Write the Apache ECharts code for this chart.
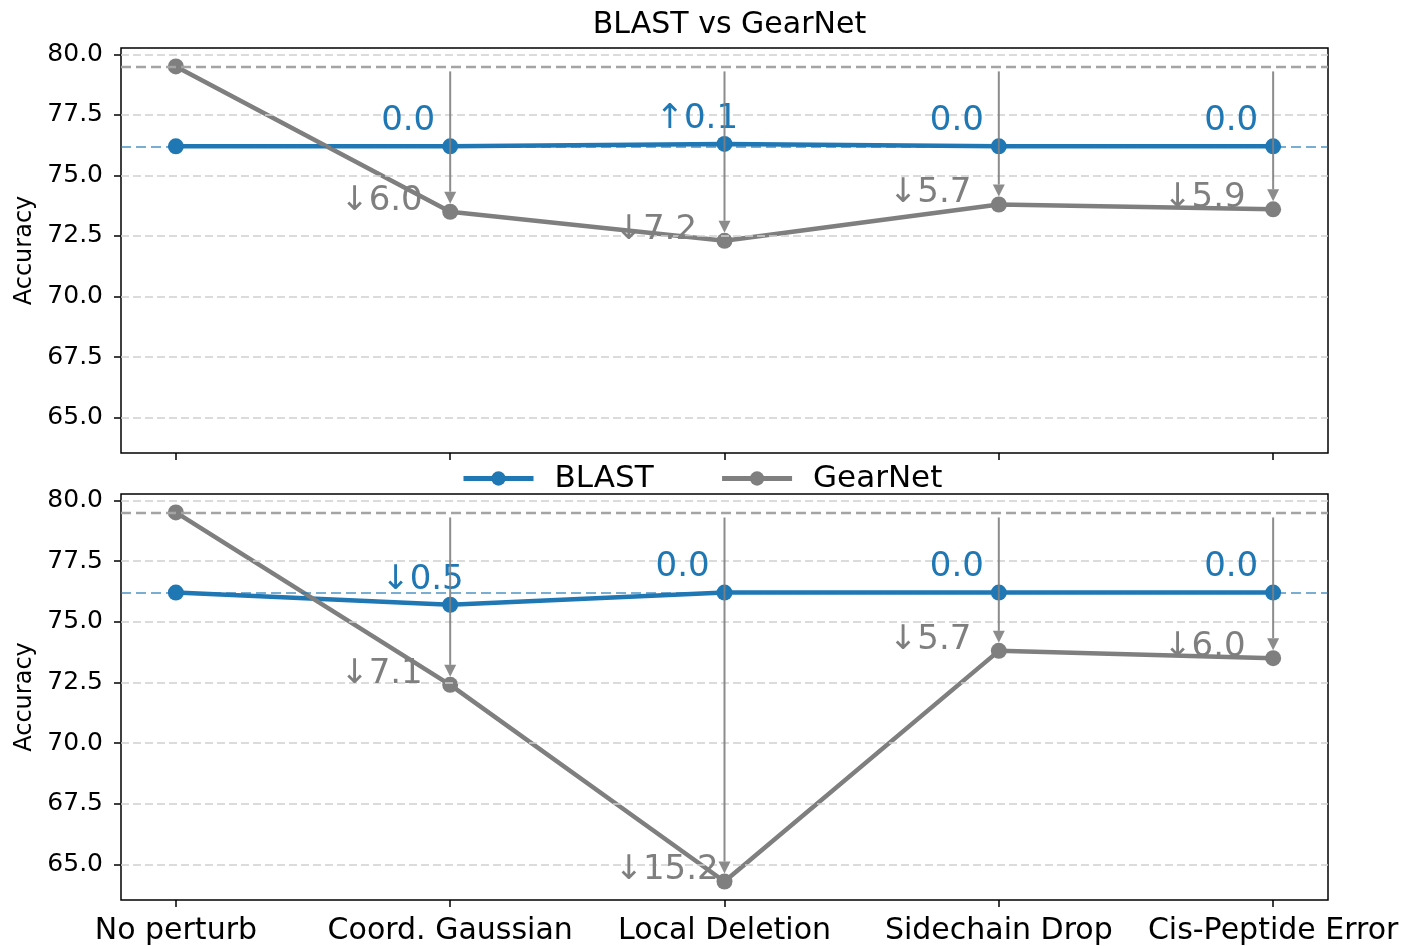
<!DOCTYPE html>
<html>
<head>
<meta charset="utf-8">
<title>BLAST vs GearNet</title>
<script src="https://cdn.jsdelivr.net/npm/echarts@6/dist/echarts.min.js"></script>
<style>
  html, body { margin: 0; padding: 0; background: #ffffff; }
  #chart { width: 1404px; height: 946px; }
</style>
</head>
<body>
<div id="chart"></div>
<script>
// Perturbation categories shared by both panels
const categories = ['No perturb', 'Coord. Gaussian', 'Local Deletion', 'Sidechain Drop', 'Cis-Peptide Error'];

// Upper panel accuracies
const blastTop   = [76.2, 76.2, 76.3, 76.2, 76.2];
const gearnetTop = [79.5, 73.5, 72.3, 73.8, 73.6];

// Lower panel accuracies
const blastBottom   = [76.2, 75.7, 76.2, 76.2, 76.2];
const gearnetBottom = [79.5, 72.4, 64.3, 73.8, 73.5];

// Y-axis tick labels
const yTicks = [65, 67.5, 70, 72.5, 75, 77.5, 80];
const xTicks = [0, 1, 2, 3, 4];

const BLUE = '#1f77b4';
const GRAY = '#7f7f7f';
const FONT = 'DejaVu Sans';

// shared y range: data extent plus 5% padding on each side
const allVals = blastTop.concat(gearnetTop, blastBottom, gearnetBottom);
const lo = Math.min.apply(null, allVals);
const hi = Math.max.apply(null, allVals);
const pad = (hi - lo) * 0.05;
const yMin = lo - pad;
const yMax = hi + pad;

const panels = [
  { blast: blastTop, gearnet: gearnetTop, grid: { left: 121, top: 48, width: 1207, height: 405 }, showX: false },
  { blast: blastBottom, gearnet: gearnetBottom, grid: { left: 121, top: 494, width: 1207, height: 406 }, showX: true }
];

// arrow from the baseline to each point, plus the change label
function deltaRenderer(color, dx, dy) {
  return function (params, api) {
    const x = api.value(0), v = api.value(1), b = api.value(2);
    const p0 = api.coord([x, b]);
    const p1 = api.coord([x, v]);
    const d = Math.round((v - b) * 10) / 10;
    const children = [];
    if (d !== 0) {
      const dir = p1[1] > p0[1] ? 1 : -1;
      const ys = p0[1] + 5 * dir;
      const ye = p1[1] - 8 * dir;
      const hd = ye > ys ? 1 : -1;
      const headLen = 12, headW = 6;
      children.push({
        type: 'line',
        shape: { x1: p1[0], y1: ys, x2: p1[0], y2: ye - hd * headLen },
        style: { stroke: color, lineWidth: 2, opacity: 0.9 }
      });
      children.push({
        type: 'polygon',
        shape: { points: [[p1[0], ye], [p1[0] - headW, ye - hd * headLen], [p1[0] + headW, ye - hd * headLen]] },
        style: { fill: color, opacity: 0.9 }
      });
    }
    const arrow = d > 0 ? '\u2191' : (d < 0 ? '\u2193' : '');
    children.push({
      type: 'text',
      x: p1[0] + dx,
      y: p1[1] + dy,
      style: {
        text: arrow + Math.abs(d).toFixed(1),
        fill: color,
        font: '34px "DejaVu Sans"',
        align: 'left',
        verticalAlign: 'middle'
      }
    });
    return { type: 'group', children: children };
  };
}

const grid = [], xAxis = [], yAxis = [], series = [];

panels.forEach(function (p, i) {
  grid.push(Object.assign({ show: true, borderColor: '#000', borderWidth: 1.5, backgroundColor: 'transparent' }, p.grid));

  xAxis.push({
    gridIndex: i, type: 'value', min: -0.2, max: 4.2,
    splitLine: { show: false },
    axisLine: { show: false, onZero: false },
    axisTick: { show: true, customValues: xTicks, length: 7, lineStyle: { color: '#000', width: 1.5 } },
    axisLabel: {
      show: p.showX, customValues: xTicks,
      formatter: function (v) { return categories[v]; },
      fontFamily: FONT, fontSize: 30, color: '#000', margin: 16
    }
  });

  yAxis.push({
    gridIndex: i, type: 'value', min: yMin, max: yMax,
    splitLine: { show: false },
    axisLine: { show: false, onZero: false },
    axisTick: { show: true, customValues: yTicks, length: 7, lineStyle: { color: '#000', width: 1.5 } },
    axisLabel: {
      customValues: yTicks,
      formatter: function (v) { return v.toFixed(1); },
      fontFamily: FONT, fontSize: 25, color: '#000', margin: 18
    },
    name: 'Accuracy', nameLocation: 'middle', nameGap: 84, nameRotate: 90,
    nameTextStyle: { fontFamily: FONT, fontSize: 24, color: '#000' }
  });

  // dashed grid lines and the two baselines
  series.push({
    type: 'line', xAxisIndex: i, yAxisIndex: i, data: [], silent: true, z: 1,
    markLine: {
      silent: true, symbol: ['none', 'none'], label: { show: false },
      animation: false,
      data: yTicks.map(function (t) {
        return { yAxis: t, lineStyle: { color: '#cfcfcf', width: 1.5, type: [8, 4] } };
      }).concat([
        { yAxis: p.gearnet[0], lineStyle: { color: '#a4a4a4', width: 2.4, type: [10, 5] } },
        { yAxis: p.blast[0], lineStyle: { color: 'rgba(31,119,180,0.6)', width: 2, type: [10, 5] } }
      ])
    }
  });

  series.push({
    name: 'BLAST', type: 'line', xAxisIndex: i, yAxisIndex: i, z: 3,
    data: p.blast.map(function (v, k) { return [k, v]; }),
    symbol: 'circle', symbolSize: 16, showSymbol: true,
    lineStyle: { width: 4.5, color: BLUE }, itemStyle: { color: BLUE },
    animation: false
  });
  series.push({
    name: 'GearNet', type: 'line', xAxisIndex: i, yAxisIndex: i, z: 4,
    data: p.gearnet.map(function (v, k) { return [k, v]; }),
    symbol: 'circle', symbolSize: 16, showSymbol: true,
    lineStyle: { width: 4.5, color: GRAY }, itemStyle: { color: GRAY },
    animation: false
  });

  series.push({
    type: 'custom', xAxisIndex: i, yAxisIndex: i, z: 6, silent: true, clip: false,
    data: p.blast.slice(1).map(function (v, k) { return [k + 1, v, p.blast[0]]; }),
    renderItem: deltaRenderer(BLUE, -69, -25),
    animation: false
  });
  series.push({
    type: 'custom', xAxisIndex: i, yAxisIndex: i, z: 6, silent: true, clip: false,
    data: p.gearnet.slice(1).map(function (v, k) { return [k + 1, v, p.gearnet[0]]; }),
    renderItem: deltaRenderer(GRAY, -110, -11),
    animation: false
  });
});

const chart = echarts.init(document.getElementById('chart'), null, { renderer: 'canvas' });
chart.setOption({
  backgroundColor: '#ffffff',
  animation: false,
  title: {
    text: 'BLAST vs GearNet', left: 724.5, top: 5, textAlign: 'center',
    textStyle: { fontFamily: FONT, fontSize: 30, fontWeight: 'normal', color: '#000' }
  },
  legend: {
    data: ['BLAST', 'GearNet'], left: 461, top: 463, padding: 0,
    itemWidth: 70, itemHeight: 18, itemGap: 66,
    lineStyle: { width: 5 },
    itemStyle: { borderWidth: 0 },
    textStyle: { fontFamily: FONT, fontSize: 31, color: '#000', padding: [0, 0, 0, 16] }
  },
  grid: grid,
  xAxis: xAxis,
  yAxis: yAxis,
  series: series
});
</script>
</body>
</html>
